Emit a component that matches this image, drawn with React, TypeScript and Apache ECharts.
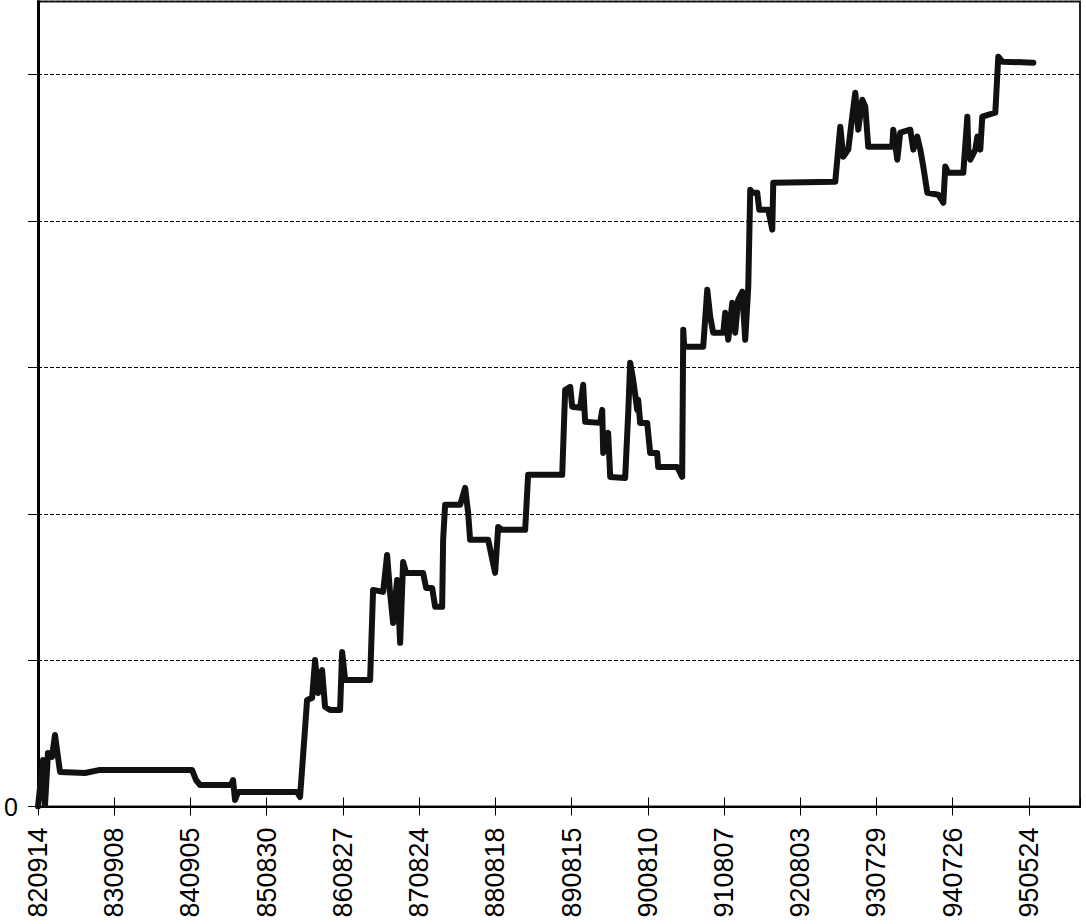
import React, { useEffect, useRef } from "react";
import * as echarts from "echarts";

const tickLabels = [
  "820914", "830908", "840905", "850830", "860827", "870824", "880818",
  "890815", "900810", "910807", "920803", "930729", "940726", "950524",
];

// position along the category ticks (0 = 820914, 1 = 830908, ...)
const xPos = [
  0, 0.066, 0.092, 0.131, 0.184, 0.223, 0.262, 0.289, 0.617, 0.814,
  2.021, 2.073, 2.126, 2.533, 2.559, 2.585, 2.625, 3.399, 3.438, 3.504,
  3.53, 3.596, 3.635, 3.675, 3.727, 3.766, 3.832, 3.963, 3.99, 4.029,
  4.357, 4.396, 4.528, 4.58, 4.619, 4.659, 4.711, 4.751, 4.79, 4.829,
  5.052, 5.092, 5.171, 5.21, 5.302, 5.315, 5.341, 5.538, 5.604, 5.643,
  5.669, 5.906, 5.997, 6.037, 6.089, 6.391, 6.43, 6.877, 6.916, 6.982,
  7.008, 7.113, 7.152, 7.178, 7.375, 7.402, 7.415, 7.48, 7.507, 7.703,
  7.743, 7.769, 7.808, 7.861, 7.874, 7.9, 7.992, 8.031, 8.123, 8.136,
  8.386, 8.451, 8.465, 8.478, 8.727, 8.78, 8.819, 8.858, 8.99, 9.016,
  9.055, 9.108, 9.147, 9.186, 9.239, 9.278, 9.318, 9.344, 9.37, 9.436,
  9.462, 9.58, 9.633, 9.646, 10.459, 10.525, 10.564, 10.63, 10.682, 10.722,
  10.761, 10.814, 10.853, 10.892, 11.207, 11.22, 11.273, 11.312, 11.444, 11.483,
  11.535, 11.575, 11.614, 11.667, 11.811, 11.877, 11.903, 11.942, 12.139, 12.192,
  12.205, 12.231, 12.297, 12.323, 12.362, 12.388, 12.559, 12.598, 12.651, 13.058,
];

const yVals = [
  0, 0.318, 0.01, 0.366, 0.339, 0.489, 0.339, 0.236, 0.229, 0.25,
  0.25, 0.181, 0.147, 0.147, 0.181, 0.044, 0.099, 0.099, 0.065, 0.537,
  0.728, 0.742, 1.001, 0.776, 0.933, 0.68, 0.66, 0.66, 1.056, 0.865,
  0.865, 1.48, 1.466, 1.719, 1.459, 1.254, 1.548, 1.118, 1.671, 1.596,
  1.596, 1.493, 1.493, 1.364, 1.364, 1.822, 2.061, 2.061, 2.177, 2.006,
  1.822, 1.822, 1.596, 1.91, 1.89, 1.89, 2.266, 2.266, 2.847, 2.867,
  2.731, 2.724, 2.881, 2.628, 2.621, 2.71, 2.416, 2.553, 2.252, 2.245,
  2.69, 3.032, 2.916, 2.71, 2.779, 2.621, 2.621, 2.416, 2.416, 2.32,
  2.32, 2.252, 3.257, 3.141, 3.141, 3.531, 3.346, 3.237, 3.237, 3.373,
  3.189, 3.442, 3.237, 3.462, 3.517, 3.189, 3.551, 4.214, 4.193, 4.193,
  4.077, 4.077, 3.941, 4.262, 4.269, 4.645, 4.44, 4.488, 4.713, 4.877,
  4.624, 4.829, 4.781, 4.508, 4.508, 4.624, 4.419, 4.604, 4.624, 4.488,
  4.577, 4.488, 4.372, 4.193, 4.18, 4.125, 4.372, 4.33, 4.33, 4.713,
  4.488, 4.419, 4.488, 4.577, 4.488, 4.713, 4.74, 5.123, 5.089, 5.082,
];

const FONT = "'Liberation Sans', Arial, sans-serif";

export default function App() {
  const ref = useRef<HTMLDivElement>(null);

  useEffect(() => {
    if (!ref.current) return;
    const chart = echarts.init(ref.current, null, { renderer: "svg" });
    const data = xPos.map((x, i) => [x, yVals[i]]);
    const xCommon = {
      type: "value" as const,
      min: 0,
      max: 13.67,
      interval: 1,
      splitLine: { show: false },
    };
    chart.setOption({
      animation: false,
      backgroundColor: "#fff",
      grid: {
        left: 38,
        right: 6,
        top: 1.5,
        bottom: 117.5,
        show: true,
        borderColor: "#222",
        borderWidth: 2,
      },
      xAxis: [
        {
          ...xCommon,
          position: "bottom",
          axisLine: { show: true, onZero: false, lineStyle: { color: "#000", width: 2 } },
          axisTick: { show: true, length: 9, lineStyle: { color: "#000", width: 1 } },
          axisLabel: {
            show: true,
            rotate: 90,
            margin: 21,
            fontSize: 27,
            fontFamily: FONT,
            color: "#000",
            showMaxLabel: false,
            formatter: (v: number) => {
              const i = Math.round(v);
              return Math.abs(v - i) < 1e-6 && tickLabels[i] ? tickLabels[i] : "";
            },
          },
        },
        {
          ...xCommon,
          position: "bottom",
          axisLine: { show: false },
          axisTick: { show: true, inside: true, length: 9, lineStyle: { color: "#000", width: 1 } },
          axisLabel: { show: false },
        },
      ],
      yAxis: {
        type: "value",
        min: 0,
        max: 5.5,
        interval: 1,
        axisLine: { show: true, lineStyle: { color: "#000", width: 3 } },
        axisTick: { show: true, length: 10, lineStyle: { color: "#000", width: 1 } },
        axisLabel: {
          show: true,
          margin: 20,
          fontSize: 25,
          fontFamily: FONT,
          color: "#000",
          showMaxLabel: false,
          formatter: (v: number) => (v === 0 ? "0" : ""),
        },
        splitLine: {
          show: true,
          lineStyle: { color: "#000", width: 1, type: [4, 2] },
        },
      },
      series: [
        {
          type: "line",
          data,
          xAxisIndex: 0,
          showSymbol: false,
          symbol: "none",
          lineStyle: { color: "#111", width: 6, cap: "round", join: "round" },
          z: 5,
        },
      ],
    });
    return () => chart.dispose();
  }, []);

  return (
    <div
      ref={ref}
      style={{ position: "fixed", left: 0, top: 0, width: 1086, height: 924, background: "#fff" }}
    />
  );
}
